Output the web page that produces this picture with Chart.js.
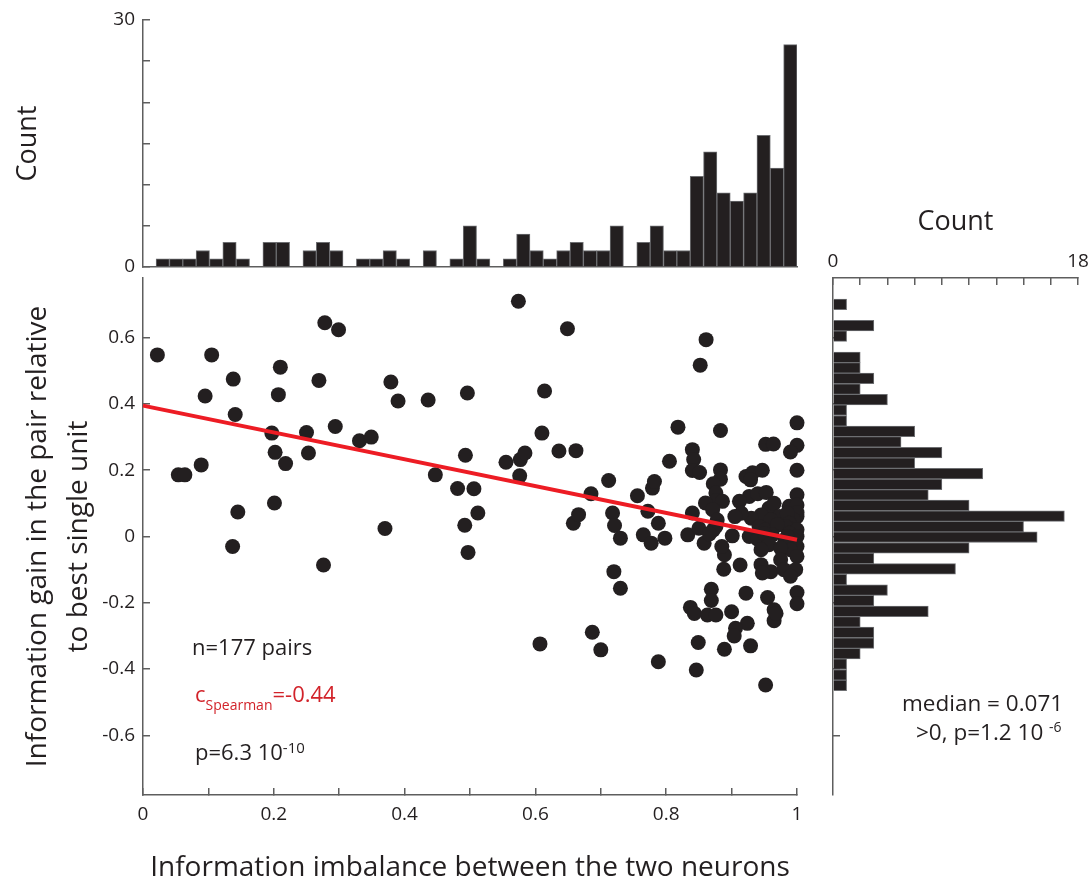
<!DOCTYPE html>
<html>
<head>
<meta charset="utf-8">
<script src="https://cdn.jsdelivr.net/npm/chart.js"></script>
<style>
  body { margin: 0; background: #fff; width: 1088px; height: 885px; position: relative; overflow: hidden;
         font-family: 'Open Sans', sans-serif; color: #231f20; }
  canvas { position: absolute; }
  .note { position: absolute; white-space: nowrap; line-height: 1; }
  .red { color: #d2232a; }
</style>
</head>
<body>
<canvas id="topHist" width="810" height="280" style="left:0;top:0"></canvas>
<canvas id="scatter" width="815" height="617" style="left:0;top:268px"></canvas>
<canvas id="sideHist" width="273" height="610" style="left:815px;top:200px"></canvas>

<div class="note" style="left:192px;top:635px;font-size:22px">n=177 pairs</div>
<div class="note red" style="left:195px;top:682px;font-size:22px">c<span style="font-size:14px;vertical-align:-8px">Spearman</span>=-0.44</div>
<div class="note" style="left:195px;top:740px;font-size:22px">p=6.3 10<span style="font-size:15px;vertical-align:7px">-10</span></div>
<div class="note" style="left:902px;top:692px;font-size:22.5px">median = 0.071</div>
<div class="note" style="left:916px;top:720px;font-size:22.5px">&gt;0, p=1.2 10 <span style="font-size:14px;vertical-align:8px">-6</span></div>

<script>
// x histogram (information imbalance), 48 bins starting at 0.02
const imbalanceBinStart = 0.02;
const imbalanceBinWidth = 0.020417;
const imbalanceCounts = [1, 1, 1, 2, 1, 3, 1, 0, 3, 3, 0, 2, 3, 2, 0, 1, 1, 2, 1, 0, 2, 0, 1, 5,
                         1, 0, 1, 4, 2, 1, 2, 3, 2, 2, 5, 0, 3, 5, 2, 2, 11, 14, 9, 8, 9, 16, 12, 27];

// y histogram (information gain), 37 bins from the bottom up
const gainBinStart = -0.4653;
const gainBinWidth = 0.03194;
const gainCounts = [1, 1, 1, 2, 3, 3, 2, 7, 3, 4, 1, 9, 3, 10, 15, 14, 17, 10, 7, 8, 11, 6, 8, 5,
                    6, 1, 1, 4, 2, 3, 2, 2, 0, 1, 3, 0, 1];

// scatter: one entry per pair
const imbalance = [
  0.022, 0.054, 0.064, 0.089, 0.095, 0.105, 0.137, 0.138, 0.141, 0.145,
  0.197, 0.201, 0.202, 0.207, 0.210, 0.218, 0.250, 0.253, 0.269, 0.276,
  0.278, 0.294, 0.299, 0.331, 0.349, 0.370, 0.379, 0.390, 0.436, 0.447,
  0.481, 0.492, 0.493, 0.496, 0.497, 0.506, 0.512, 0.555, 0.574, 0.576,
  0.577, 0.584, 0.607, 0.610, 0.614, 0.636, 0.649, 0.658, 0.662, 0.666,
  0.685, 0.687, 0.700, 0.712, 0.718, 0.720, 0.721, 0.730, 0.730, 0.756,
  0.765, 0.772, 0.777, 0.779, 0.782, 0.788, 0.788, 0.798, 0.805, 0.818,
  0.833,
  0.861, 0.852, 1.000, 0.883, 1.000, 0.952, 0.964, 0.840, 0.842, 1.000,
  0.840, 0.851, 0.883, 0.922, 0.932, 0.947, 0.883, 0.929, 0.872, 0.876,
  0.927, 0.940, 0.953, 1.000, 0.876, 0.886, 0.860, 0.912, 0.871, 0.840,
  0.878, 0.872, 0.876, 0.858, 0.889, 0.888, 0.913, 0.869, 0.869, 0.922,
  0.955, 1.000, 1.000, 0.837, 0.843, 0.863, 0.876, 0.900, 0.965, 0.965,
  0.924, 0.906, 0.904, 0.849, 0.929, 0.889, 0.846, 0.952,
  0.990, 0.988, 1.000, 0.957, 0.965, 1.000, 0.973, 1.000, 0.995, 0.945,
  0.930, 0.915, 0.985, 0.960, 0.905, 0.988, 0.983, 0.942, 0.952, 1.000,
  0.970, 0.850, 0.901, 0.927, 0.988, 1.000, 0.982, 0.962, 0.940, 0.950,
  0.995, 0.866, 0.985, 0.957, 1.000, 0.990, 0.975, 0.945, 0.885, 1.000,
  0.975, 0.945, 0.960, 0.980, 0.998, 0.947, 0.990, 0.968
];
const gain = [
  0.548, 0.186, 0.186, 0.216, 0.424, 0.548, -0.030, 0.475, 0.368, 0.074,
  0.312, 0.101, 0.254, 0.428, 0.511, 0.220, 0.314, 0.252, 0.471, -0.086,
  0.645, 0.332, 0.624, 0.289, 0.300, 0.024, 0.466, 0.409, 0.412, 0.186,
  0.145, 0.034, 0.245, 0.433, -0.048, 0.144, 0.071, 0.224, 0.710, 0.183,
  0.232, 0.252, -0.324, 0.312, 0.439, 0.258, 0.627, 0.040, 0.259, 0.066,
  0.129, -0.289, -0.342, 0.169, 0.071, -0.106, 0.033, -0.005, -0.156, 0.123,
  0.005, 0.076, -0.020, 0.146, 0.166, 0.040, -0.378, -0.005, 0.227, 0.330,
  0.005,
  0.594, 0.517, 0.343, 0.320, 0.275, 0.278, 0.279, 0.262, 0.232, 0.200,
  0.199, 0.193, 0.201, 0.181, 0.192, 0.200, 0.173, 0.171, 0.159, 0.131,
  0.121, 0.129, 0.133, 0.126, 0.108, 0.106, 0.101, 0.106, 0.081, 0.071,
  0.050, 0.020, 0.030, -0.020, -0.055, -0.099, -0.086, -0.159, -0.193, -0.171,
  -0.184, -0.169, -0.203, -0.214, -0.232, -0.237, -0.237, -0.227, -0.221, -0.254,
  -0.262, -0.277, -0.300, -0.320, -0.330, -0.340, -0.403, -0.448,
  0.255, 0.091, 0.095, 0.085, 0.100, 0.060, 0.060, 0.072, 0.050, 0.065,
  0.055, 0.070, 0.070, 0.050, 0.060, 0.040, 0.030, 0.030, 0.020, 0.020,
  0.035, 0.025, 0.002, 0.000, 0.010, 0.000, -0.012, 0.005, -0.008, 0.008,
  -0.010, 0.008, 0.000, -0.025, -0.030, -0.040, -0.035, -0.040, -0.030, -0.060,
  -0.070, -0.085, -0.106, -0.100, -0.100, -0.110, -0.120, -0.232
];

// regression line end points
const fitX = [0, 1];
const fitY = [0.395, -0.01];

const ink = '#231f20';
const axisGrey = '#5e5e5e';
Chart.defaults.font.family = "'Open Sans', sans-serif";
Chart.defaults.color = ink;

// pin the axis box size and drop the label overhang padding so chart areas line up
function fixWidth(w) {
    return s => { s.width = w; s.paddingTop = 0; s.paddingBottom = 0; };
}
function fixHeight(h) {
    return s => { s.height = h; s.paddingLeft = 0; s.paddingRight = 0; };
}

const axisLine = { color: axisGrey, width: 1.5 };
const inwardTicks = { drawOnChartArea: false, tickLength: -7, color: axisGrey, lineWidth: 1.5, offset: false };
const noPlugins = { legend: { display: false }, tooltip: { enabled: false } };

// top histogram
new Chart(document.getElementById('topHist'), {
    type: 'bar',
    data: {
        datasets: [{
            data: imbalanceCounts.map((c, i) => ({ x: imbalanceBinStart + (i + 0.5) * imbalanceBinWidth, y: c })),
            backgroundColor: ink,
            borderColor: '#6d6e71',
            borderWidth: 1,
            barPercentage: 1,
            categoryPercentage: 1
        }]
    },
    options: {
        responsive: false,
        animation: false,
        layout: { padding: { top: 20, right: 13, left: 0, bottom: 0 } },
        plugins: noPlugins,
        scales: {
            x: {
                type: 'linear', min: 0, max: 1, offset: false,
                grid: { display: false, offset: false },
                ticks: { display: false },
                border: axisLine,
                afterFit: fixHeight(13)
            },
            y: {
                min: 0, max: 30,
                ticks: { stepSize: 5, autoSkip: false, padding: 15, font: { size: 19 },
                         callback: v => (v === 0 || v === 30) ? String(v) : '' },
                grid: inwardTicks,
                border: axisLine,
                title: { display: true, text: 'Count', font: { size: 27 }, padding: { top: 12, bottom: 0 } },
                afterFit: fixWidth(143)
            }
        }
    }
});

// main scatter
new Chart(document.getElementById('scatter'), {
    type: 'scatter',
    data: {
        datasets: [{
            type: 'line',
            data: fitX.map((x, i) => ({ x: x, y: fitY[i] })),
            borderColor: '#ed1c24',
            borderWidth: 4,
            pointRadius: 0,
            order: 0,
            clip: false
        }, {
            data: imbalance.map((x, i) => ({ x: x, y: gain[i] })),
            backgroundColor: ink,
            pointRadius: 7.5,
            borderWidth: 0,
            order: 1,
            clip: false
        }]
    },
    options: {
        responsive: false,
        animation: false,
        layout: { padding: { top: 10, right: 18, left: 0, bottom: 0 } },
        plugins: noPlugins,
        scales: {
            x: {
                type: 'linear', min: 0, max: 1,
                ticks: { stepSize: 0.1, autoSkip: false, maxRotation: 0, padding: 15, font: { size: 19 },
                         callback: v => { const r = Math.round(v * 10); return r % 2 === 0 ? String(r / 10) : ''; } },
                grid: inwardTicks,
                border: axisLine,
                title: { display: true, text: 'Information imbalance between the two neurons',
                         font: { size: 28 }, padding: { top: 0, bottom: 0 } },
                afterFit: fixHeight(90)
            },
            y: {
                min: -0.78, max: 0.78,
                ticks: { stepSize: 0.2, includeBounds: false, autoSkip: false, padding: 15, font: { size: 19 },
                         callback: v => String(Math.round(v * 10) / 10) },
                grid: inwardTicks,
                border: axisLine,
                title: { display: true, text: ['Information gain in the pair relative', 'to best single unit'],
                         font: { size: 28, lineHeight: 1.45 }, padding: { top: 18, bottom: 0 } },
                afterFit: fixWidth(143)
            }
        }
    }
});

// side histogram
new Chart(document.getElementById('sideHist'), {
    type: 'bar',
    data: {
        datasets: [{
            data: gainCounts.map((c, i) => ({ y: gainBinStart + (i + 0.5) * gainBinWidth, x: c })),
            backgroundColor: ink,
            borderColor: '#6d6e71',
            borderWidth: 1,
            barPercentage: 1,
            categoryPercentage: 1
        }]
    },
    options: {
        indexAxis: 'y',
        responsive: false,
        animation: false,
        layout: { padding: { top: 0, right: 10, left: 0, bottom: 15 } },
        plugins: noPlugins,
        scales: {
            x: {
                position: 'top', min: 0, max: 18,
                ticks: { stepSize: 2, autoSkip: false, maxRotation: 0, padding: 12, font: { size: 19 },
                         callback: v => (v === 0 || v === 18) ? String(v) : '' },
                grid: inwardTicks,
                border: axisLine,
                title: { display: true, text: 'Count', font: { size: 27 }, padding: { top: 6, bottom: 0 } },
                afterFit: fixHeight(78)
            },
            y: {
                type: 'linear', min: -0.78, max: 0.78, offset: false,
                ticks: { stepSize: 0.2, includeBounds: false, autoSkip: false, display: false },
                grid: inwardTicks,
                border: axisLine,
                afterFit: fixWidth(18)
            }
        }
    }
});
</script>
</body>
</html>
